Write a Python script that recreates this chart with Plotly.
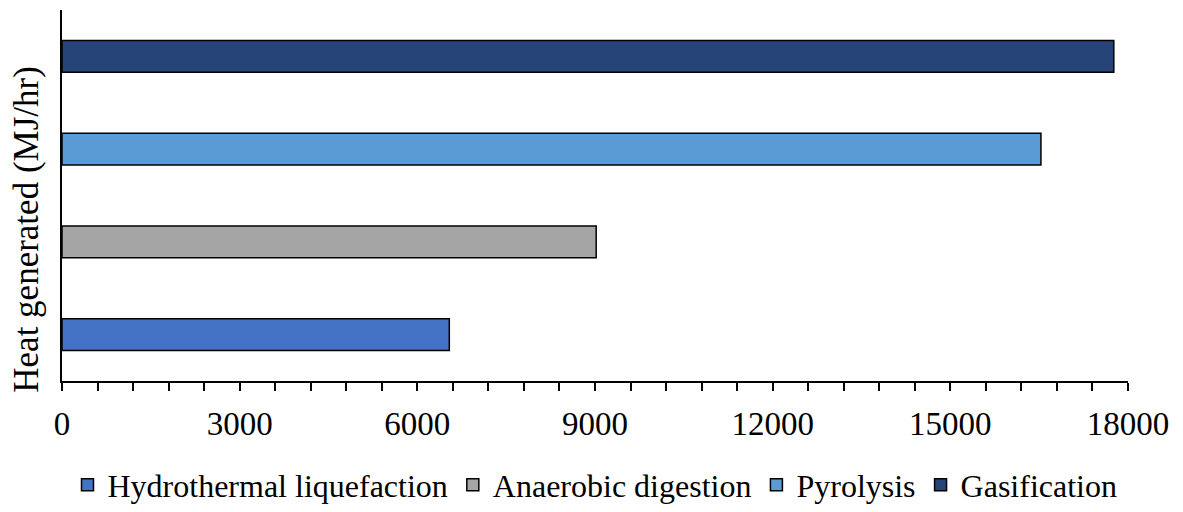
import plotly.graph_objects as go

categories = ["Hydrothermal liquefaction", "Anaerobic digestion", "Pyrolysis", "Gasification"]
values = [6540, 9020, 16530, 17760]
colors = ["#4472C4", "#A5A5A5", "#5B9BD5", "#264478"]
tick_vals = [0, 3000, 6000, 9000, 12000, 15000, 18000]
tick_text = ["0", "3000", "6000", "9000", "12000", "15000", "18000"]
y_title = "Heat generated (MJ/hr)"

FONT = "Liberation Serif"

fig = go.Figure()
for cat, val, col in zip(categories, values, colors):
    fig.add_trace(go.Bar(
        y=[cat], x=[val], name=cat, orientation="h",
        marker=dict(color=col, line=dict(color="black", width=1.5)),
        width=0.345,
    ))

fig.add_annotation(text=y_title, textangle=-90, xref="paper", yref="paper",
                   x=-0.033, y=0.41, xanchor="center", yanchor="middle", showarrow=False,
                   font=dict(family=FONT, size=35, color="black"))

fig.update_layout(
    width=1167, height=496,
    margin=dict(l=54, r=47, t=2, b=123, autoexpand=False),
    paper_bgcolor="white", plot_bgcolor="white",
    barmode="overlay",
    font=dict(family=FONT, color="black"),
    showlegend=True,
    legend=dict(orientation="h", x=0.5, xanchor="center", y=-0.28, yanchor="middle",
                font=dict(family=FONT, size=32, color="black"),
                itemwidth=30, tracegroupgap=0, traceorder="normal"),
    xaxis=dict(range=[0, 18000], tickmode="array", tickvals=tick_vals, ticktext=tick_text,
               ticks="outside", ticklen=8, tickwidth=1.5, tickcolor="black",
               minor=dict(dtick=600, ticks="outside", ticklen=8, tickwidth=1.5, tickcolor="black"),
               showline=True, linecolor="black", linewidth=1.5,
               showgrid=False, zeroline=False, ticklabelstandoff=5,
               tickfont=dict(family=FONT, size=33, color="black")),
    yaxis=dict(type="category", categoryorder="array", categoryarray=categories,
               range=[-0.5, 3.5], showticklabels=False, ticks="",
               showline=True, linecolor="black", linewidth=1.5,
               showgrid=False, zeroline=False),
)

fig.write_html("out.html")
